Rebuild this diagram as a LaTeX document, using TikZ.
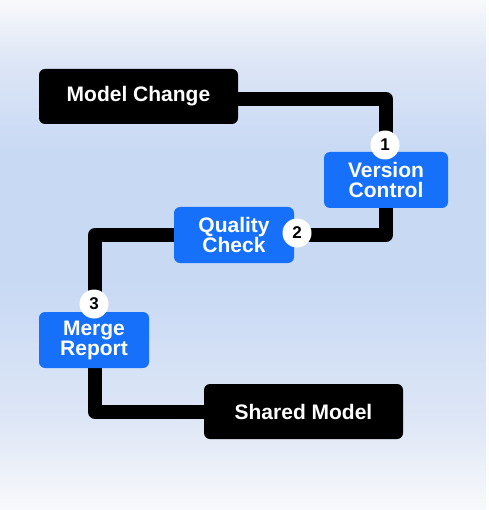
\documentclass[tikz,border=0pt]{standalone}
\usepackage{fontspec}
\setmainfont{Liberation Sans}
\definecolor{bgtop}{HTML}{F8F9FB}
\definecolor{bgmidA}{HTML}{DDE6F6}
\definecolor{bgmid}{HTML}{C8D9F4}
\definecolor{boxblue}{HTML}{1670FA}
\pgfdeclareverticalshading{bgshade}{100bp}{color(0bp)=(bgtop); color(25bp)=(bgtop); color(34bp)=(bgmidA); color(47.5bp)=(bgmid); color(60bp)=(bgmid); color(69bp)=(bgmidA); color(75bp)=(bgtop); color(100bp)=(bgtop)}
\pgfdeclarelayer{bg}
\pgfdeclarelayer{lines}
\pgfsetlayers{bg,lines,main}
\tikzset{
  blk/.style={fill=black, rounded corners=6pt, text=white, font=\bfseries\fontsize{21}{20}\selectfont, align=center, inner sep=0pt},
  blu/.style={fill=boxblue, rounded corners=6pt, text=white, font=\bfseries\fontsize{21}{20}\selectfont, align=center, inner sep=0pt},
  badge/.style={circle, fill=white, minimum size=29pt, inner sep=0pt, font=\bfseries\fontsize{17}{17}\selectfont},
  conn/.style={line width=14pt, line join=round, draw=black}
}
\begin{document}
\begin{tikzpicture}[x=1pt,y=-1pt]
\begin{pgfonlayer}{bg}
\shade[shading=bgshade] (0,0) rectangle (488,510);
\fill[white] (486,0) rectangle (488,510);
\end{pgfonlayer}
\useasboundingbox (0,0) rectangle (488,510);
\node[blk, minimum width=199pt, minimum height=55pt] (mc) at (138.5,96.5) {Model Change};
\node[blu, minimum width=124pt, minimum height=56pt] (vc) at (386,180) {Version\\Control};
\node[blu, minimum width=120pt, minimum height=56pt] (qc) at (234,235) {Quality\\Check};
\node[blu, minimum width=110pt, minimum height=56pt] (mr) at (94,340) {Merge\\Report};
\node[blk, minimum width=199pt, minimum height=55pt] (sm) at (303.5,411.5) {Shared Model};
\node[badge] (b1) at (385,145) {1};
\node[badge] (b2) at (297,233) {2};
\node[badge] (b3) at (94,304) {3};
\coordinate (c1) at (386,99);
\coordinate (c3) at (95,235);
\coordinate (c4) at (95,412);
\begin{pgfonlayer}{lines}
\draw[conn] (c1 -| mc.east) -- (c1) -- (vc.north);
\draw[conn] (vc.south) |- (qc.east);
\draw[conn] (qc.west) -- (c3) -- (c3 |- mr.north);
\draw[conn] (c4 |- mr.south) -- (c4) -- (c4 -| sm.west);
\end{pgfonlayer}
\end{tikzpicture}
\end{document}
